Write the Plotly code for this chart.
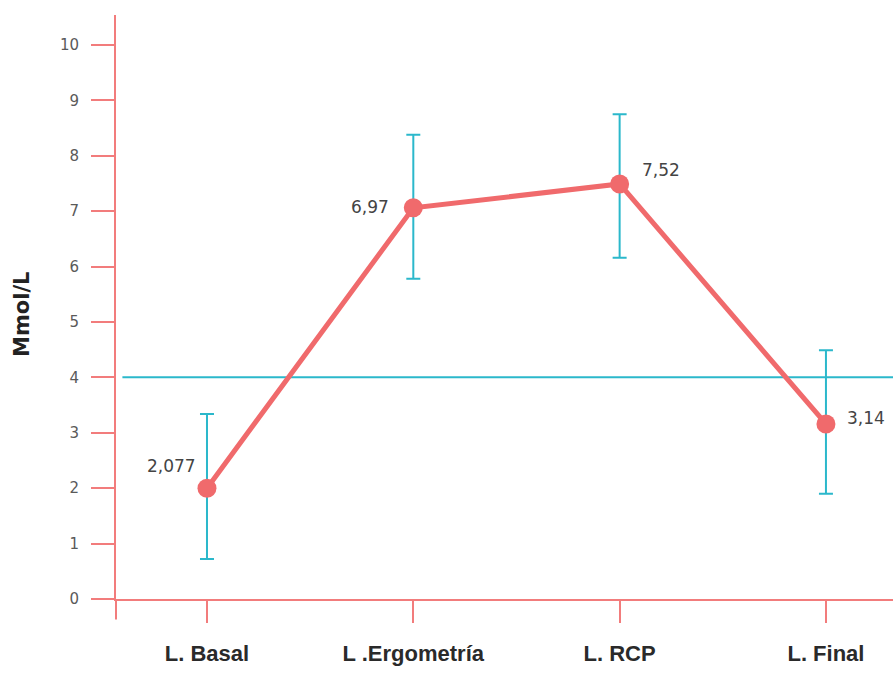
import plotly.graph_objects as go

categories = ["L. Basal", "L .Ergometría", "L. RCP", "L. Final"]
means = [2.0, 7.06, 7.49, 3.16]
err_plus = [1.34, 1.32, 1.26, 1.33]
err_minus = [1.28, 1.28, 1.33, 1.26]
labels = ["2,077", "6,97", "7,52", "3,14"]
ref_level = 4
y_ticks = list(range(0, 11))

# label placement styles (pixel offsets)
label_anchor = ["right", "right", "left", "left"]
label_xshift = [-9, -22, 20, 19]
label_yshift = [22, 1, 14, 6]

RED = "#F06A6C"
AXIS = "#F27C7C"
CYAN = "#2BB8CB"

x = list(range(len(categories)))

fig = go.Figure()
fig.add_trace(go.Scatter(
    x=x, y=means, mode="markers",
    marker=dict(size=1, color="rgba(0,0,0,0)"),
    error_y=dict(type="data", symmetric=False, array=err_plus, arrayminus=err_minus,
                 color=CYAN, thickness=2, width=7),
    hoverinfo="skip", showlegend=False,
))
fig.add_trace(go.Scatter(
    x=x, y=means, mode="lines+markers",
    line=dict(color=RED, width=5),
    marker=dict(size=19, color=RED),
    showlegend=False,
))

for xi, yi, t, anc, xs, ys in zip(x, means, labels, label_anchor, label_xshift, label_yshift):
    fig.add_annotation(x=xi, y=yi, xref="x", yref="y", text=t, showarrow=False,
                       xanchor=anc, yanchor="middle", xshift=xs, yshift=ys,
                       font=dict(family="DejaVu Sans, sans-serif", size=17, color="#444444"))

x_range = [-0.441, 3.325]
fig.add_shape(type="line", xref="x", yref="y", x0=-0.41, x1=x_range[1],
              y0=ref_level, y1=ref_level, line=dict(color=CYAN, width=2), layer="below")
# axis spine extensions
fig.add_shape(type="line", xref="paper", yref="paper", x0=0, x1=0, y0=0, y1=-0.035,
              line=dict(color=AXIS, width=2))
fig.add_shape(type="line", xref="paper", yref="paper", x0=-0.027, x1=0, y0=0, y1=0,
              line=dict(color=AXIS, width=2))

fig.add_annotation(xref="paper", yref="paper", x=-0.121, y=0.488, text="<b>Mmol/L</b>",
                   textangle=-90, showarrow=False, xanchor="center", yanchor="middle",
                   font=dict(family="DejaVu Sans, sans-serif", size=21, color="#222222"))

fig.update_layout(
    width=893, height=673,
    margin=dict(l=116, r=0, t=15, b=74),
    paper_bgcolor="white", plot_bgcolor="white",
    xaxis=dict(
        range=x_range, tickvals=x, ticktext=categories,
        showline=True, linecolor=AXIS, linewidth=2, showgrid=False, zeroline=False,
        ticks="outside", ticklen=22, tickwidth=2, tickcolor=AXIS,
        tickfont=dict(family="Liberation Sans, Arial, sans-serif", size=22, color="#2a2a2a", weight="bold"),
        ticklabelstandoff=12,
    ),
    yaxis=dict(
        range=[0, 10.54], tickvals=y_ticks,
        showline=True, linecolor=AXIS, linewidth=2, showgrid=False, zeroline=False,
        ticks="outside", ticklen=23, tickwidth=2, tickcolor=AXIS,
        tickfont=dict(family="DejaVu Sans, sans-serif", size=15, color="#5a5a5a"),
        ticklabelstandoff=9,
    ),
)

fig.write_html("out.html")
